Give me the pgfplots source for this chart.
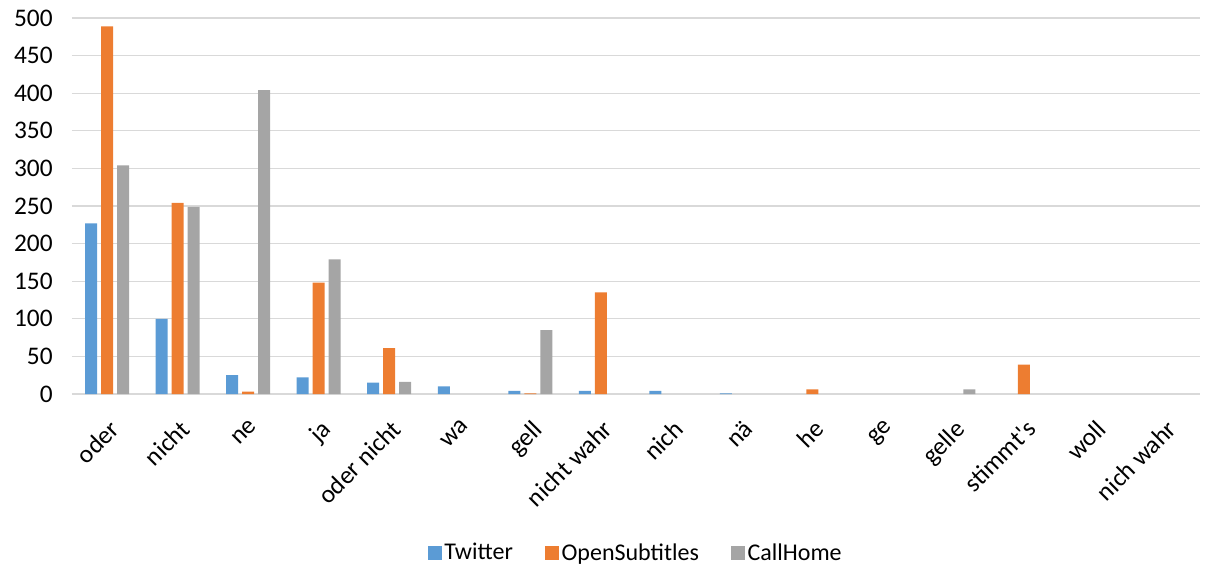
\documentclass[border=0pt]{standalone}
\usepackage{fontspec}
\setmainfont{Carlito}
\usepackage{pgfplots}
\pgfplotsset{compat=1.18}
\definecolor{twblue}{RGB}{91,155,213}
\definecolor{osorange}{RGB}{237,125,49}
\definecolor{chgray}{RGB}{165,165,165}
\definecolor{gridgray}{RGB}{217,217,217}
\begin{document}
\begin{tikzpicture}
\useasboundingbox (-54pt,-133.5pt) rectangle (852pt,295.5pt);
\begin{axis}[
  at={(0,0)}, anchor=south west,
  scale only axis, width=846pt, height=282pt,
  ybar, bar width=9pt,
  xmin=-0.5, xmax=15.5, ymin=0, ymax=500,
  enlargelimits=false,
  ytick={0,50,...,500},
  xtick={0,...,15},
  xticklabels={oder,nicht,ne,ja,oder nicht,wa,gell,nicht wahr,nich,nä,he,ge,gelle,stimmt\textquotesingle s,woll,nich wahr},
  axis line style={draw=none},
  tick style={draw=none},
  ymajorgrids, major grid style={draw=gridgray, line width=1pt},
  /pgf/number format/assume math mode=true,
  tick label style={font=\fontsize{19}{22}\selectfont},
  yticklabel style={xshift=-11pt},
  xticklabel style={rotate=45, anchor=north east, yshift=-7pt, xshift=-6pt},
  legend style={at={(0.5,-0.422)}, anchor=center, draw=none, legend columns=3,
    font=\fontsize{18}{21}\selectfont,
    /tikz/every even column/.append style={column sep=22pt}},
  legend image code/.code={\fill[#1] (0pt,-5.25pt) rectangle (10.5pt,5.25pt);},
]
\addplot[fill=twblue, draw=none, bar shift=-12pt] coordinates {
(0,227) (1,100) (2,25) (3,22) (4,15) (5,10) (6,4) (7,4) (8,4) (9,1)};
\addplot[fill=osorange, draw=none, bar shift=0pt] coordinates {
(0,489) (1,254) (2,3) (3,148) (4,61) (6,1) (7,135) (10,6) (13,39)};
\addplot[fill=chgray, draw=none, bar shift=12pt] coordinates {
(0,304) (1,249) (2,404) (3,179) (4,16) (6,85) (12,6)};
\legend{Twitter,OpenSubtitles,CallHome}
\end{axis}
\end{tikzpicture}
\end{document}
